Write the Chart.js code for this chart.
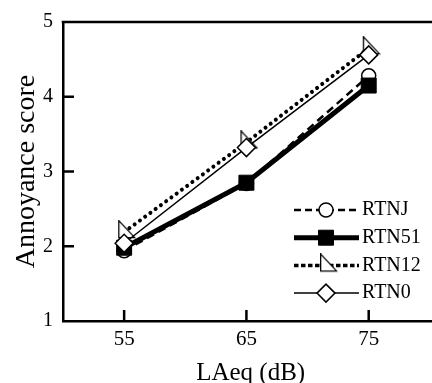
<!DOCTYPE html>
<html>
<head>
<meta charset="utf-8">
<script src="https://cdn.jsdelivr.net/npm/chart.js@4.4.1/dist/chart.umd.min.js"></script>
<style>
  html, body { margin: 0; padding: 0; overflow: hidden; background: #fff; }
  canvas { display: block; }
</style>
</head>
<body>
<canvas id="chart" width="450" height="383"></canvas>
<script>
// Sound level categories (dB) and mean annoyance per stimulus type
const levels = [55, 65, 75];
const rtnJ  = [1.94, 2.84, 4.28];
const rtn51 = [1.98, 2.85, 4.15];
const rtn12 = [2.19, 3.39, 4.65];
const rtn0  = [2.04, 3.32, 4.56];
const scoreTicks = [1, 2, 3, 4, 5];
const xTitle = 'LAeq (dB)';
const yTitle = 'Annoyance score';

const FONT = '"Liberation Serif", "Times New Roman", Times, serif';

// Right-angled triangle marker, centred on its centroid
function triangleMarker() {
  const c = document.createElement('canvas');
  c.width = 24; c.height = 24;
  const g = c.getContext('2d');
  const w = 16, h = 17, cx = 12, cy = 12;
  const left = cx - w / 3, right = cx + 2 * w / 3;
  const top = cy - 2 * h / 3, bottom = cy + h / 3;
  g.beginPath();
  g.moveTo(left, top);
  g.lineTo(left, bottom);
  g.lineTo(right, bottom);
  g.closePath();
  g.fillStyle = '#fff';
  g.fill();
  g.lineWidth = 1.3;
  g.strokeStyle = '#000';
  g.stroke();
  return c;
}

const pts = ys => levels.map((x, i) => ({ x: x, y: ys[i] }));

const datasets = [
  { label: 'RTNJ', data: pts(rtnJ), borderColor: '#000', borderWidth: 2.5,
    borderDash: [8, 5], legendDash: [7, 4],
    pointStyle: 'circle', pointRadius: 7, pointBackgroundColor: '#fff',
    pointBorderColor: '#000', pointBorderWidth: 1.5, order: 4 },
  { label: 'RTN51', data: pts(rtn51), borderColor: '#000', borderWidth: 5,
    borderDash: [], legendDash: [],
    pointStyle: 'rect', pointRadius: 10.6, pointBackgroundColor: '#000',
    pointBorderColor: '#000', pointBorderWidth: 1, order: 3 },
  { label: 'RTN12', data: pts(rtn12), borderColor: '#000', borderWidth: 4,
    borderDash: [0.01, 6.5], borderCapStyle: 'round', legendDash: [4.5, 2.5], legendWidth: 3.5,
    pointStyle: triangleMarker(), pointRadius: 9, pointBackgroundColor: '#fff',
    pointBorderColor: '#000', pointBorderWidth: 1.3, order: 2 },
  { label: 'RTN0', data: pts(rtn0), borderColor: '#000', borderWidth: 1.5,
    borderDash: [], legendDash: [],
    pointStyle: 'rectRot', pointRadius: 9, pointBackgroundColor: '#fff',
    pointBorderColor: '#000', pointBorderWidth: 1.5, order: 1 }
];

// Inward tick marks, top frame line and the line+marker legend
const framePlugin = {
  id: 'frame',
  beforeDatasetsDraw(chart) {
    const ctx = chart.ctx, a = chart.chartArea;
    const xs = chart.scales.x, ys = chart.scales.y;
    ctx.save();
    ctx.strokeStyle = '#000';
    ctx.lineWidth = 2.5;
    ctx.beginPath();
    ctx.moveTo(a.left - 1.25, a.top);
    ctx.lineTo(a.right, a.top);
    levels.forEach(v => {
      const px = xs.getPixelForValue(v);
      ctx.moveTo(px, a.bottom);
      ctx.lineTo(px, a.bottom - 11);
    });
    scoreTicks.slice(1, -1).forEach(v => {
      const py = ys.getPixelForValue(v);
      ctx.moveTo(a.left, py);
      ctx.lineTo(a.left + 11, py);
    });
    ctx.stroke();
    ctx.restore();
  },
  afterDraw(chart, args, opts) {
    const ctx = chart.ctx;
    chart.data.datasets.forEach((ds, i) => {
      const y = opts.y0 + i * opts.dy;
      ctx.save();
      ctx.strokeStyle = ds.borderColor;
      ctx.lineWidth = ds.legendWidth || ds.borderWidth;
      ctx.lineCap = 'butt';
      ctx.setLineDash(ds.legendDash || []);
      ctx.beginPath();
      ctx.moveTo(opts.x0, y);
      ctx.lineTo(opts.x1, y);
      ctx.stroke();
      ctx.setLineDash([]);
      ctx.fillStyle = ds.pointBackgroundColor;
      ctx.strokeStyle = ds.pointBorderColor;
      ctx.lineWidth = ds.pointBorderWidth;
      Chart.helpers.drawPoint(ctx, {
        pointStyle: ds.pointStyle, radius: ds.pointRadius,
        rotation: 0, borderWidth: ds.pointBorderWidth
      }, opts.mx, y);
      ctx.fillStyle = '#000';
      ctx.font = '20px ' + FONT;
      ctx.textAlign = 'left';
      ctx.textBaseline = 'middle';
      ctx.fillText(ds.label, opts.tx, y);
      ctx.restore();
    });
  }
};

Chart.defaults.color = '#000';

new Chart(document.getElementById('chart'), {
  type: 'line',
  data: { datasets: datasets },
  plugins: [framePlugin],
  options: {
    responsive: false,
    animation: false,
    devicePixelRatio: 1,
    layout: { padding: { top: 16, left: 0, right: 0, bottom: 0 } },
    plugins: {
      legend: { display: false },
      tooltip: { enabled: false },
      frame: { x0: 294, x1: 359, mx: 326, tx: 362, y0: 210, dy: 27.7 }
    },
    scales: {
      x: {
        type: 'linear', position: 'bottom', min: 50, max: 80.7,
        afterBuildTicks: s => { s.ticks = levels.map(v => ({ value: v })); },
        afterFit: s => { s.height = 62; },
        grid: { display: false, drawTicks: false },
        border: { display: true, color: '#000', width: 2.5 },
        ticks: { font: { family: FONT, size: 21 }, color: '#000', padding: 6,
                 maxRotation: 0, autoSkip: false },
        title: { display: true, text: xTitle, color: '#000',
                 font: { family: FONT, size: 25, lineHeight: 1 },
                 padding: { top: 0, bottom: -3 } }
      },
      y: {
        type: 'linear', min: 1, max: 5,
        afterBuildTicks: s => { s.ticks = scoreTicks.map(v => ({ value: v })); },
        afterFit: s => { s.width = 63; },
        grid: { display: false, drawTicks: false },
        border: { display: true, color: '#000', width: 2.5 },
        ticks: { font: { family: FONT, size: 20 }, color: '#000', padding: 10 },
        title: { display: true, text: yTitle, color: '#000',
                 font: { family: FONT, size: 28, lineHeight: 1.2 },
                 padding: { top: 10, bottom: 0 } }
      }
    }
  }
});
</script>
</body>
</html>
